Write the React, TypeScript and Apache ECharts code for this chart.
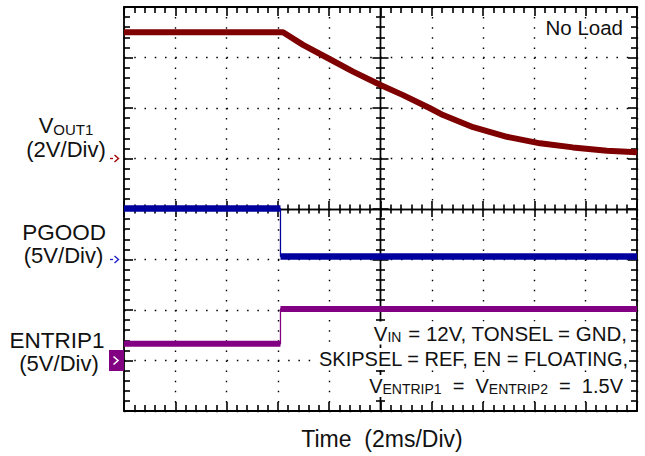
import React, { useEffect, useRef } from "react";
import * as echarts from "echarts";

const FONT = "'Liberation Sans', Arial, Helvetica, sans-serif";

// Horizontal: 10 divisions of 2 ms
const timeMinMs = 0;
const timeMaxMs = 20;
const timeDivMs = 2;
const yDivisions = 8;

// VOUT1 trace (2 V/div)
const vout1TimeMs = [0, 6.2, 6.98, 8.03, 8.93, 10.0, 10.88, 11.93, 12.44, 13.61, 14.93, 16.22, 17.5, 18.83, 20];
const vout1Volts = [5.0, 5.0, 4.5, 3.93, 3.44, 2.91, 2.51, 1.99, 1.72, 1.24, 0.86, 0.6, 0.44, 0.31, 0.25];

// PGOOD trace (5 V/div)
const pgoodTimeMs = [0, 6.1, 6.1, 20];
const pgoodVolts = [5.05, 5.05, 0.3, 0.3];

// ENTRIP1 trace (5 V/div)
const entripTimeMs = [0, 6.1, 6.1, 20];
const entripVolts = [1.65, 1.65, 5.1, 5.1];

// channel scale: volts per division, divisions below the ground marker
const vout1Scale = { vPerDiv: 2, groundDiv: 5 };
const pgoodScale = { vPerDiv: 5, groundDiv: 3 };
const entripScale = { vPerDiv: 5, groundDiv: 1 };

const C_VOUT = "#7f0000";
const C_PGOOD = "#00009e";
const C_ENTRIP = "#820082";

const pairs = (t: number[], v: number[]) => t.map((x, i) => [x, v[i]]);
const levels = (t: number[], v: number[]) => {
  const out: any[] = [];
  for (let i = 0; i < t.length; i++) {
    if (i > 0 && t[i] === t[i - 1]) out.push([t[i], "-"]);
    out.push([t[i], v[i]]);
  }
  return out;
};

const chanAxis = (s: { vPerDiv: number; groundDiv: number }) => ({
  type: "value",
  show: false,
  min: -s.groundDiv * s.vPerDiv,
  max: (yDivisions - s.groundDiv) * s.vPerDiv,
  interval: s.vPerDiv,
  splitLine: { show: false },
});

const frameLine = () => ({ color: "#000", width: 1.8 });
const tickLine = () => ({ color: "#000", width: 1.6 });

const frameX = (position: string, split: boolean) => ({
  type: "value",
  min: timeMinMs,
  max: timeMaxMs,
  interval: timeDivMs,
  position,
  axisLine: { show: true, onZero: false, lineStyle: frameLine() },
  axisTick: { show: true, inside: true, length: 9, lineStyle: tickLine() },
  minorTick: { show: true, splitNumber: 5, length: 6, lineStyle: tickLine() },
  axisLabel: { show: false },
  splitLine: split
    ? { show: true, lineStyle: { color: "#000", width: 1.4, type: [1.5, 8.6] } }
    : { show: false },
});

const centerX = (inside: boolean) => ({
  type: "value",
  min: timeMinMs,
  max: timeMaxMs,
  interval: timeDivMs,
  position: "bottom",
  offset: -202,
  axisLine: { show: true, onZero: false, lineStyle: { color: "#000", width: 1.4 } },
  axisTick: { show: true, inside, length: 8, lineStyle: tickLine() },
  minorTick: { show: true, splitNumber: 5, length: 4.5, lineStyle: tickLine() },
  axisLabel: { show: false },
  splitLine: { show: false },
});

const frameY = (position: string, split: boolean) => ({
  type: "value",
  min: 0,
  max: yDivisions,
  interval: 1,
  position,
  axisLine: { show: true, onZero: false, lineStyle: frameLine() },
  axisTick: { show: true, inside: true, length: 9, lineStyle: tickLine() },
  minorTick: { show: true, splitNumber: 5, length: 6, lineStyle: tickLine() },
  axisLabel: { show: false },
  splitLine: split
    ? { show: true, lineStyle: { color: "#000", width: 1.4, type: [1.5, 8.76] } }
    : { show: false },
});

const centerY = (inside: boolean) => ({
  type: "value",
  min: 0,
  max: yDivisions,
  interval: 1,
  position: "left",
  offset: -256.5,
  axisLine: { show: true, onZero: false, lineStyle: { color: "#000", width: 1.4 } },
  axisTick: { show: true, inside, length: 8, lineStyle: tickLine() },
  minorTick: { show: true, splitNumber: 5, length: 4.5, lineStyle: tickLine() },
  axisLabel: { show: false },
  splitLine: { show: false },
});

const txt = (x: number, y: number, text: string, size: number, align: string, extra: any = {}) => ({
  type: "text",
  x,
  y,
  z: 100,
  style: {
    text,
    font: `${size}px ${FONT}`,
    fill: "#111",
    textAlign: align,
    textVerticalAlign: "middle",
    ...extra,
  },
});

const rich = (main: number, sub: number) => ({
  m: { fontSize: main, fontFamily: FONT, fill: "#111", verticalAlign: "bottom" },
  s: { fontSize: sub, fontFamily: FONT, fill: "#111", verticalAlign: "bottom" },
});

export default function App() {
  const ref = useRef<HTMLDivElement>(null);
  useEffect(() => {
    if (!ref.current) return;
    const chart = echarts.init(ref.current, null, { renderer: "svg" });
    chart.setOption({
      animation: false,
      backgroundColor: "#fff",
      grid: { left: 124, top: 7, right: 8, bottom: 45 },
      xAxis: [frameX("bottom", true), frameX("top", false), centerX(true), centerX(false)],
      yAxis: [
        frameY("left", true),
        frameY("right", false),
        centerY(true),
        centerY(false),
        chanAxis(vout1Scale),
        chanAxis(pgoodScale),
        chanAxis(entripScale),
      ],
      series: [
        {
          name: "VOUT1",
          type: "line",
          xAxisIndex: 0,
          yAxisIndex: 4,
          data: pairs(vout1TimeMs, vout1Volts),
          showSymbol: false,
          symbol: "none",
          lineStyle: { color: C_VOUT, width: 6, join: "round" },
          z: 5,
        },
        {
          name: "PGOOD edge",
          type: "line",
          xAxisIndex: 0,
          yAxisIndex: 5,
          data: pairs(pgoodTimeMs, pgoodVolts),
          symbol: "none",
          lineStyle: { color: C_PGOOD, width: 1.3 },
          z: 5,
        },
        {
          name: "PGOOD",
          type: "line",
          xAxisIndex: 0,
          yAxisIndex: 5,
          data: levels(pgoodTimeMs, pgoodVolts),
          symbol: "none",
          connectNulls: false,
          lineStyle: { color: C_PGOOD, width: 6.5 },
          z: 5,
        },
        {
          name: "ENTRIP1 edge",
          type: "line",
          xAxisIndex: 0,
          yAxisIndex: 6,
          data: pairs(entripTimeMs, entripVolts),
          symbol: "none",
          lineStyle: { color: C_ENTRIP, width: 1.3 },
          z: 5,
        },
        {
          name: "ENTRIP1",
          type: "line",
          xAxisIndex: 0,
          yAxisIndex: 6,
          data: levels(entripTimeMs, entripVolts),
          symbol: "none",
          connectNulls: false,
          lineStyle: { color: C_ENTRIP, width: 6 },
          z: 5,
        },
      ],
    });

    const gV = chart.convertToPixel({ yAxisIndex: 4 }, 0) as number;
    const gP = chart.convertToPixel({ yAxisIndex: 5 }, 0) as number;
    const gE = chart.convertToPixel({ yAxisIndex: 6 }, 0) as number;

    const arrow = (g: number, color: string) => [
      { type: "line", z: 100, shape: { x1: 110, y1: g, x2: 113, y2: g }, style: { stroke: color, lineWidth: 1.3 } },
      {
        type: "polyline",
        z: 100,
        shape: { points: [[114.5, g - 3.5], [118.5, g], [114.5, g + 3.5]] },
        style: { stroke: color, lineWidth: 1.4, fill: null },
      },
    ];

    chart.setOption({
      graphic: [
        ...arrow(gV, "#a00000"),
        ...arrow(gP, "#2020c8"),
        { type: "rect", z: 100, shape: { x: 109, y: gE - 10.5, width: 15, height: 21 }, style: { fill: C_ENTRIP } },
        {
          type: "polyline",
          z: 101,
          shape: { points: [[113.5, gE - 4], [118, gE], [113.5, gE + 4]] },
          style: { stroke: "#fff", lineWidth: 1.6, fill: null },
        },
        {
          type: "text",
          x: 66,
          y: 125.5,
          z: 100,
          style: { text: "{m|V}{s|OUT1}", rich: rich(22, 15), textAlign: "center", textVerticalAlign: "middle" },
        },
        txt(66, 149, "(2V/Div)", 22, "center"),
        txt(64, 232.5, "PGOOD", 22.5, "center"),
        txt(63.5, 255.5, "(5V/Div)", 22, "center"),
        txt(57, 340.5, "ENTRIP1", 22.5, "center"),
        txt(59, 363.5, "(5V/Div)", 22, "center"),
        txt(623, 27, "No Load", 20.5, "right"),
        txt(382, 439, "Time  (2ms/Div)", 23, "center"),
        {
          type: "text",
          x: 628,
          y: 333,
          z: 100,
          style: {
            text: "{m|V}{s|IN}{m| = 12V, TONSEL = GND,}",
            rich: rich(20.5, 14),
            textAlign: "right",
            textVerticalAlign: "middle",
            backgroundColor: "#fff",
            padding: [1, 1, 1, 2],
          },
        },
        {
          type: "text",
          x: 629,
          y: 359,
          z: 100,
          style: {
            text: "{m|SKIPSEL = REF, EN = FLOATING,}",
            rich: rich(20, 14),
            textAlign: "right",
            textVerticalAlign: "middle",
            backgroundColor: "#fff",
            padding: [1, 1, 1, 2],
          },
        },
        {
          type: "text",
          x: 624,
          y: 386,
          z: 100,
          style: {
            text: "{m|V}{s|ENTRIP1}{m|  =  V}{s|ENTRIP2}{m|  =  1.5V}",
            rich: rich(20, 14),
            textAlign: "right",
            textVerticalAlign: "middle",
            backgroundColor: "#fff",
            padding: [1, 1, 1, 2],
          },
        },
      ],
    });

    return () => chart.dispose();
  }, []);

  return (
    <div
      ref={ref}
      style={{ position: "fixed", left: 0, top: 0, width: 645, height: 456, background: "#fff" }}
    />
  );
}
